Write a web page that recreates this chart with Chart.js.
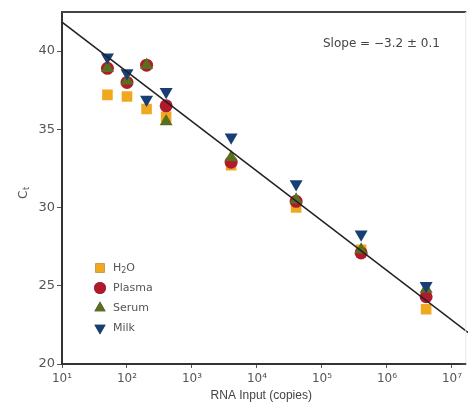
<!DOCTYPE html>
<html><head><meta charset="utf-8">
<script src="https://cdn.jsdelivr.net/npm/chart.js@4"></script>
<style>html,body{margin:0;padding:0;background:#fff}#wrap{width:468px;height:403px}</style>
</head><body><div id="wrap"><canvas id="c" width="468" height="403"></canvas></div>
<script>
const copies = [50, 100, 200, 400, 4000, 40000, 400000, 4000000];
const h2o    = [37.2, 37.1, 36.3, 35.8, 32.7, 30.0, 27.3, 23.5];
const plasma = [38.9, 38.0, 39.1, 36.5, 32.9, 30.4, 27.1, 24.3];
const serum  = [38.9, 38.1, 39.1, 35.5, 33.2, 30.5, 27.3, 24.8];
const milk   = [39.6, 38.6, 36.9, 37.4, 34.5, 31.5, 28.3, 25.0];
const fitX = [10, 17800000];
const fitY = [41.85, 22.0];
const xTicks = [1e1, 1e2, 1e3, 1e4, 1e5, 1e6, 1e7];
const yTicks = [20, 25, 30, 35, 40];
const seriesNames = ['H\u2082O', 'Plasma', 'Serum', 'Milk'];
const slopeText = 'Slope = \u22123.2 \u00b1 0.1';

const colH2O = '#F0A820', colPlasma = '#B01A2C', colSerum = '#5A6E1E', colMilk = '#173F75';
const sup = {'0':'\u2070','1':'\u00b9','2':'\u00b2','3':'\u00b3','4':'\u2074','5':'\u2075','6':'\u2076','7':'\u2077'};
const pts = arr => copies.map((c, i) => ({x: c, y: arr[i]}));
const fmtPow = v => '10' + String(Math.round(Math.log10(v))).split('').map(d => sup[d]).join('');

const styles = [
  {color: colH2O, style: 'rect', r: 7.5, rot: 0},
  {color: colPlasma, style: 'circle', r: 6.5, rot: 0},
  {color: colSerum, style: 'triangle', r: 7.5, rot: 0},
  {color: colMilk, style: 'triangle', r: 7.5, rot: 180}
];
const orders = [4, 3, 2, 1];
const vals = [h2o, plasma, serum, milk];

const datasets = vals.map((v, i) => ({
  type: 'scatter', label: seriesNames[i], data: pts(v), order: orders[i],
  pointStyle: styles[i].style, pointRadius: styles[i].r, pointRotation: styles[i].rot,
  backgroundColor: styles[i].color, borderColor: styles[i].color, borderWidth: 0
}));
datasets.push({
  type: 'line', label: 'fit', data: fitX.map((x, i) => ({x, y: fitY[i]})), order: 0,
  borderColor: '#222', borderWidth: 1.6, pointRadius: 0, fill: false, clip: false
});

const FONT = '"DejaVu Sans", Verdana, sans-serif';
const extras = {
  id: 'extras',
  afterDraw(chart) {
    const ctx = chart.ctx, a = chart.chartArea;
    const xs = chart.scales.x;
    const frameRight = xs.getPixelForValue(fitX[1]) - 2;
    ctx.save();
    ctx.strokeStyle = '#444'; ctx.lineWidth = 2;
    ctx.beginPath(); ctx.moveTo(a.left - 1, a.top); ctx.lineTo(frameRight, a.top); ctx.stroke();
    ctx.beginPath(); ctx.moveTo(a.right, a.bottom); ctx.lineTo(frameRight, a.bottom); ctx.stroke();
    ctx.strokeStyle = '#e8e8e8'; ctx.lineWidth = 1;
    ctx.beginPath(); ctx.moveTo(frameRight - 0.5, a.top); ctx.lineTo(frameRight - 0.5, a.bottom - 1); ctx.stroke();
    ctx.fillStyle = '#555'; ctx.font = '12px ' + FONT;
    ctx.textAlign = 'center'; ctx.textBaseline = 'top';
    xTicks.forEach(v => ctx.fillText(fmtPow(v), xs.getPixelForValue(v), a.bottom + 9));
    ctx.fillStyle = '#444'; ctx.font = '12px ' + FONT;
    ctx.textBaseline = 'middle'; ctx.textAlign = 'left';
    ctx.fillText(slopeText, 323, 44);
    const lx = 100, ly0 = 268, dy = 20;
    const lsz = [6.5, 6, 6.5, 6.5];
    seriesNames.forEach((n, i) => {
      const y = ly0 + i * dy;
      Chart.helpers.drawPoint(ctx, {pointStyle: styles[i].style, rotation: styles[i].rot, radius: lsz[i], borderWidth: 0}, lx, y);
      ctx.fillStyle = styles[i].color; ctx.fill();
      ctx.fillStyle = '#555'; ctx.font = '11px ' + FONT;
      ctx.textAlign = 'left'; ctx.textBaseline = 'middle';
      if (i === 0) {
        ctx.fillText('H', 113, y);
        const w = ctx.measureText('H').width;
        ctx.font = '8px ' + FONT;
        ctx.fillText('2', 113 + w, y + 3);
        const w2 = ctx.measureText('2').width;
        ctx.font = '11px ' + FONT;
        ctx.fillText('O', 113 + w + w2, y);
      } else {
        ctx.fillText(n, 113, y);
      }
    });
    ctx.translate(24, 194); ctx.rotate(-Math.PI / 2);
    ctx.fillStyle = '#555'; ctx.font = '12px ' + FONT;
    ctx.textAlign = 'left'; ctx.textBaseline = 'middle';
    ctx.fillText('C', -5, 0);
    ctx.font = '8px ' + FONT;
    ctx.fillText('t', 4, 3);
    ctx.restore();
  }
};

new Chart(document.getElementById('c'), {
  data: {datasets},
  plugins: [extras],
  options: {
    responsive: false, animation: false,
    layout: {padding: {top: 12, right: 2, left: 0, bottom: 0}},
    plugins: {legend: {display: false}, tooltip: {enabled: false}},
    scales: {
      x: {
        type: 'logarithmic', min: 10, max: 13520000,
        afterBuildTicks: s => { s.ticks = xTicks.map(v => ({value: v})); },
        afterFit: s => { s.height = 39; },
        grid: {display: true, drawOnChartArea: false, drawTicks: true, tickLength: 4, color: '#555'},
        border: {display: true, color: '#333', width: 2},
        ticks: {display: false},
        title: {display: true, text: 'RNA Input (copies)', color: '#444', font: {family: '"Liberation Sans", Arial, sans-serif', size: 12}, padding: {top: 0, bottom: 0}}
      },
      y: {
        type: 'linear', min: 20, max: 42.5,
        afterBuildTicks: s => { s.ticks = yTicks.map(v => ({value: v})); },
        afterFit: s => { s.width = 62; },
        grid: {display: true, drawOnChartArea: false, drawTicks: true, tickLength: 5, color: '#555'},
        border: {display: true, color: '#333', width: 2},
        ticks: {color: '#555', font: {family: FONT, size: 13}, padding: 2}
      }
    }
  }
});
</script></body></html>
